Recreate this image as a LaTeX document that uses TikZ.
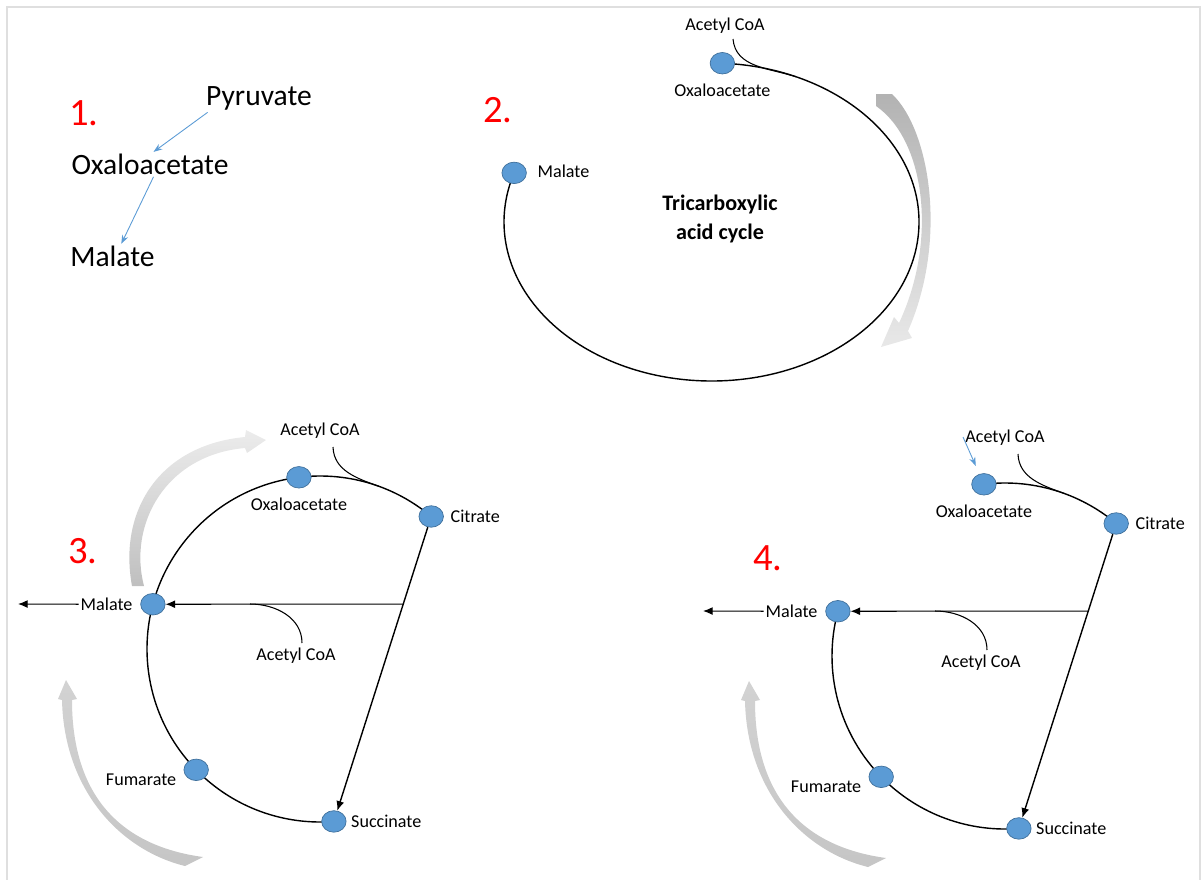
\documentclass[tikz,border=0pt]{standalone}
\usepackage{fontspec}
\setmainfont{Carlito}
\definecolor{DotBlue}{HTML}{5B9BD5}
\definecolor{DotEdge}{HTML}{41719C}
\definecolor{StepRed}{HTML}{FF0000}
\usetikzlibrary{arrows.meta, positioning, calc, shapes.geometric}

\tikzset{
  met/.style={ellipse, fill=DotBlue, draw=DotEdge, line width=0.4pt, inner sep=0pt,
              minimum width=0.49cm, minimum height=0.43cm},
  lab/.style={font=\fontsize{10.3}{12}\selectfont, inner sep=1pt},
  biglab/.style={font=\fontsize{16.8}{20}\selectfont, inner sep=1pt, anchor=base},
  stepnum/.style={font=\fontsize{22}{26}\selectfont, text=StepRed, inner sep=0pt},
  cyc/.style={line width=0.8pt},
  acjoin/.style={line width=0.6pt},
  flow/.style={-{Latex[length=5.5pt,width=4.5pt]}, line width=0.6pt},
  feed/.style={-{Stealth[length=5pt,width=3.6pt]}, DotBlue, line width=0.5pt}
}

\begin{document}
\begin{tikzpicture}[x=0.02cm, y=-0.02cm]
  \useasboundingbox (0,0) rectangle (1203,879);
  % Frame
  \draw[gray!25, line width=1pt] (7,900) -- (7,7) -- (1200,7) -- (1200,900);

  % Panel 1
  \node[stepnum] at (84,113) {1.};
  \node[biglab] (pyr1) at (259,105.5) {Pyruvate};
  \node[biglab] (oxa1) at (150,174.5) {Oxaloacetate};
  \node[biglab] (mal1) at (112.5,266.5) {Malate};
  \draw[feed] ([xshift=2pt]pyr1.south west) -- ([xshift=2pt]oxa1.north);
  \draw[feed] ([xshift=2pt]oxa1.south) -- ([xshift=5pt]mal1.north);

  % Panel 2
  \node[stepnum] at (498,110) {2.};
  \coordinate (c2) at (711.5,222);
  \shade[top color=gray!60, bottom color=gray!18]
    (876,94) -- (892,94) .. controls (930,130) and (948,240) .. (908,331)
    -- (912,338) -- (881,347) -- (894,317) -- (899,323)
    .. controls (938,240) and (925,140) .. (876,106) -- cycle;
  \draw[cyc] (c2) ++(-87:207.5 and 159) arc[start angle=-87, end angle=198, x radius=207.5, y radius=159];
  \node[met] (oxa2) at ($(c2)+(-87:207.5 and 159)$) {};
  \node[met] (mal2) at ($(c2)+(198:207.5 and 159)$) {};
  \coordinate (mg2) at ($(c2)+(-66:207.5 and 159)$);
  \node[lab] (acl2) at (725,26) {Acetyl CoA};
  \coordinate (ac2) at (733,39);
  \draw[acjoin] (ac2) to[out=-85, in=162] (mg2);
  \node[lab, below=4.5pt of oxa2] {Oxaloacetate};
  \node[lab, right=5pt of mal2, yshift=1pt] {Malate};
  \node[font=\bfseries\fontsize{12.6}{16}\selectfont, align=center] (tca) at (720,219)
    {Tricarboxylic\\acid cycle};

  % Panels 3 and 4: same cycle, shifted
  \foreach \dx/\dy/\pnum/\pfull in {0/0/3/1, 685/7/4/0} {
    \begin{scope}[shift={(\dx,\dy)}]
      \node[stepnum] at (83,551) {\pnum.};
      \coordinate (c) at (320,649);
      \ifnum\pfull=1
        \shade[top color=gray!15, bottom color=gray!50]
          (132,586) .. controls (118,510) and (160,445) .. (245,437)
          -- (246,430) -- (266,440) -- (247,453) -- (245,448)
          .. controls (165,455) and (128,525) .. (144,586) -- cycle;
        \draw[cyc] (c) ++(-50:173) arc[start angle=-50, end angle=-275, radius=173];
      \else
        \draw[cyc] (c) ++(-50:173) arc[start angle=-50, end angle=-97, radius=173];
        \draw[cyc] (c) ++(-165:173) arc[start angle=-165, end angle=-275, radius=173];
      \fi
      \coordinate (mg) at ($(c)+(-70:173)$);
      \node[lab] (aclt) at (320,431) {Acetyl CoA};
      \coordinate (at) at (333,447);
      \draw[acjoin] (at) to[out=-88, in=160] (mg);
      \node[met] (oxa) at ($(c)+(-97:173)$) {};
      \node[met] (cit) at ($(c)+(-50:173)$) {};
      \node[met] (mal) at ($(c)+(195:173)$) {};
      \node[met] (fum) at ($(c)+(135.7:173)$) {};
      \node[met] (suc) at ($(c)+(85.4:173)$) {};
      \node[lab, below=4.5pt of oxa] {Oxaloacetate};
      \node[lab, right=2.7pt of cit] {Citrate};
      \node[lab, left=3.3pt of mal] (mall) {Malate};
      \node[lab, left=3pt of fum, yshift=-5.5pt] {Fumarate};
      \node[lab, right=1.5pt of suc] {Succinate};
      \coordinate (out) at (18,604);
      \draw[flow] (mall.west) -- (out);
      \draw[flow, line width=0.8pt] (cit) -- (suc);
      \coordinate (jn) at ($(cit)!0.2876!(suc)$);
      \draw[flow] (jn) -- (mal);
      \node[lab] (aclb) at (296,656) {Acetyl CoA};
      \coordinate (ab) at (302,643);
      \coordinate (mh) at (250,604);
      \draw[acjoin] (ab) to[out=90, in=0] (mh);
      \ifnum\pfull=0
        \coordinate (fd) at (278,430);
        \draw[feed, shorten >=5pt] (fd) -- (oxa);
      \fi
    \end{scope}
  }

  % Grey turning arrows, lower left of panels 3 and 4
  \foreach \ax/\ay in {0/0, 683/1} {
    \shade[shift={(\ax,\ay)}, top color=gray!35, middle color=gray!12, bottom color=gray!45]
      (185,866) .. controls (120,850) and (64,790) .. (62,700)
      -- (58,699) -- (66,680) -- (77,699) -- (72,700)
      .. controls (72,790) and (115,845) .. (203,857) -- cycle;
  }
\end{tikzpicture}
\end{document}
